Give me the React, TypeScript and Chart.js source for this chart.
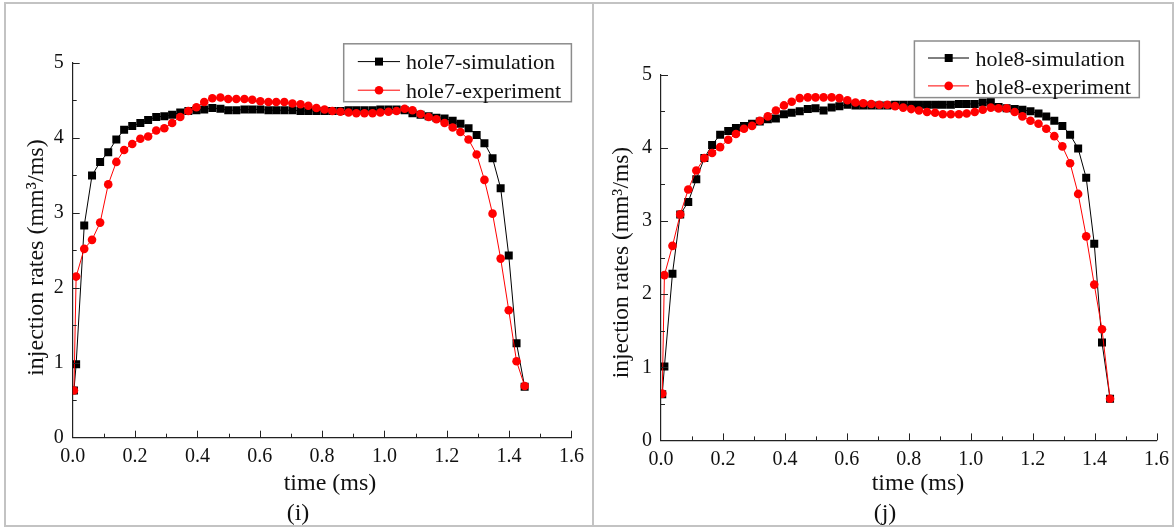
import React, { useEffect, useRef } from 'react';
import { Chart, registerables } from 'chart.js';

Chart.register(...registerables);

// ---------- data ----------
const TIME_MS = [
  0.004, 0.011, 0.037, 0.062, 0.088, 0.114, 0.140, 0.165, 0.191, 0.217,
  0.242, 0.268, 0.294, 0.319, 0.345, 0.371, 0.397, 0.422, 0.448, 0.474,
  0.499, 0.525, 0.551, 0.576, 0.602, 0.628, 0.653, 0.679, 0.705, 0.731,
  0.756, 0.782, 0.808, 0.833, 0.859, 0.885, 0.910, 0.936, 0.962, 0.987,
  1.013, 1.039, 1.065, 1.090, 1.116, 1.142, 1.167, 1.193, 1.219, 1.244,
  1.270, 1.296, 1.321, 1.347, 1.373, 1.399, 1.424, 1.450,
];

const HOLE7_SIM = [
  0.63, 0.98, 2.83, 3.50, 3.68, 3.81, 3.98, 4.11, 4.16, 4.20,
  4.24, 4.28, 4.29, 4.31, 4.34, 4.36, 4.37, 4.38, 4.40, 4.39,
  4.37, 4.37, 4.38, 4.38, 4.38, 4.37, 4.37, 4.37, 4.37, 4.36,
  4.36, 4.36, 4.36, 4.36, 4.36, 4.37, 4.37, 4.37, 4.37, 4.38,
  4.38, 4.38, 4.37, 4.33, 4.31, 4.29, 4.27, 4.26, 4.23, 4.19,
  4.13, 4.04, 3.93, 3.73, 3.33, 2.43, 1.26, 0.68,
];

const HOLE7_EXP = [
  0.63, 2.15, 2.52, 2.64, 2.87, 3.38, 3.68, 3.84, 3.92, 3.99,
  4.02, 4.10, 4.13, 4.20, 4.28, 4.36, 4.41, 4.48, 4.53, 4.54,
  4.52, 4.52, 4.52, 4.51, 4.49, 4.48, 4.48, 4.48, 4.46, 4.45,
  4.43, 4.40, 4.38, 4.36, 4.35, 4.34, 4.33, 4.33, 4.33, 4.34,
  4.35, 4.36, 4.39, 4.37, 4.32, 4.28, 4.25, 4.20, 4.14, 4.08,
  3.98, 3.78, 3.44, 2.99, 2.39, 1.70, 1.02, 0.69,
];

const HOLE8_SIM = [
  0.63, 1.01, 2.28, 3.09, 3.26, 3.57, 3.86, 4.04, 4.18, 4.23,
  4.27, 4.30, 4.33, 4.36, 4.39, 4.40, 4.46, 4.48, 4.50, 4.53,
  4.54, 4.51, 4.55, 4.57, 4.59, 4.58, 4.58, 4.58, 4.58, 4.58,
  4.59, 4.59, 4.59, 4.59, 4.59, 4.59, 4.59, 4.59, 4.60, 4.60,
  4.60, 4.62, 4.63, 4.56, 4.54, 4.53, 4.52, 4.50, 4.47, 4.43,
  4.37, 4.30, 4.18, 3.99, 3.59, 2.69, 1.34, 0.57,
];

const HOLE8_EXP = [
  0.64, 2.26, 2.66, 3.09, 3.43, 3.69, 3.86, 3.93, 4.01, 4.11,
  4.19, 4.26, 4.30, 4.37, 4.43, 4.51, 4.58, 4.63, 4.68, 4.69,
  4.69, 4.69, 4.69, 4.68, 4.65, 4.62, 4.61, 4.60, 4.59, 4.59,
  4.57, 4.55, 4.53, 4.51, 4.49, 4.48, 4.46, 4.46, 4.46, 4.47,
  4.49, 4.52, 4.55, 4.54, 4.54, 4.49, 4.43, 4.37, 4.33, 4.26,
  4.16, 4.02, 3.79, 3.37, 2.79, 2.13, 1.52, 0.57,
];

const NAMES_I = ['hole7-simulation', 'hole7-experiment'];
const NAMES_J = ['hole8-simulation', 'hole8-experiment'];
const X_TITLE = 'time (ms)';
const Y_TITLE = 'injection rates (mm\u00B3/ms)';
const X_MIN = 0, X_MAX = 1.6, X_STEP = 0.2, X_MINOR = 0.1;
const Y_MIN = 0, Y_MAX = 5, Y_STEP = 1, Y_MINOR = 0.5;

const FONT = "'Liberation Serif', 'Times New Roman', serif";
const SIM_COLOR = '#000000';
const EXP_COLOR = '#ff0000';
const SQ_HALF = 4;
const CIRCLE_R = 4.3;

type PanelCfg = {
  left: number; w: number; h: number;
  area: { l: number; r: number; t: number; b: number };
  names: string[]; sim: number[]; exp: number[];
  caption: string; captionX: number; xTitleX: number;
  yTitleX: number; yTitleY: number; yTitleSize: number;
  legend: { x0: number; y0: number; x1: number; y1: number; lx0: number; lx1: number; mx: number; tx: number; rows: number[]; baseOff: number };
};

const PANELS: PanelCfg[] = [
  {
    left: 0, w: 594, h: 528,
    area: { l: 72.7, r: 571.4, t: 63, b: 437.7 },
    names: NAMES_I, sim: HOLE7_SIM, exp: HOLE7_EXP,
    caption: '(i)', captionX: 298, xTitleX: 330,
    yTitleX: 43.4, yTitleY: 257.6, yTitleSize: 24,
    legend: { x0: 343.7, y0: 43.8, x1: 571.4, y1: 101.7, lx0: 357.8, lx1: 400, mx: 379, tx: 406, rows: [61.6, 90.2], baseOff: 7.5 },
  },
  {
    left: 594, w: 582, h: 528,
    area: { l: 67, r: 563.3, t: 74.7, b: 440.4 },
    names: NAMES_J, sim: HOLE8_SIM, exp: HOLE8_EXP,
    caption: '(j)', captionX: 291, xTitleX: 324,
    yTitleX: 34.2, yTitleY: 262.6, yTitleSize: 23.5,
    legend: { x0: 320.4, y0: 41, x1: 545.3, y1: 97.6, lx0: 334, lx1: 375, mx: 354.7, tx: 381.6, rows: [58, 85.9], baseOff: 7.7 },
  },
];

function drawMarker(ctx: CanvasRenderingContext2D, kind: 'rect' | 'circle', x: number, y: number, color: string) {
  ctx.fillStyle = color;
  if (kind === 'rect') {
    ctx.fillRect(x - SQ_HALF, y - SQ_HALF, 2 * SQ_HALF, 2 * SQ_HALF);
  } else {
    ctx.beginPath();
    ctx.arc(x, y, CIRCLE_R, 0, Math.PI * 2);
    ctx.fill();
  }
}

function makeDecor(p: PanelCfg) {
  return {
    id: 'decor',
    afterDraw(chart: any) {
      const { ctx, chartArea } = chart;
      const xs = chart.scales.x;
      const ys = chart.scales.y;
      ctx.save();
      // inward tick marks (major + minor)
      ctx.strokeStyle = '#222';
      ctx.lineWidth = 1;
      const nx = Math.round((X_MAX - X_MIN) / X_MINOR);
      for (let i = 1; i <= nx; i++) {
        const v = X_MIN + i * X_MINOR;
        const px = Math.round(xs.getPixelForValue(v)) + 0.5;
        const len = i % 2 === 0 ? 7 : 4;
        ctx.beginPath();
        ctx.moveTo(px, chartArea.bottom);
        ctx.lineTo(px, chartArea.bottom - len);
        ctx.stroke();
      }
      const ny = Math.round((Y_MAX - Y_MIN) / Y_MINOR);
      for (let i = 1; i <= ny; i++) {
        const v = Y_MIN + i * Y_MINOR;
        const py = Math.round(ys.getPixelForValue(v)) + 0.5;
        const len = i % 2 === 0 ? 7 : 4;
        ctx.beginPath();
        ctx.moveTo(chartArea.left, py);
        ctx.lineTo(chartArea.left + len, py);
        ctx.stroke();
      }

      // axis titles and caption
      ctx.fillStyle = '#111';
      ctx.textBaseline = 'alphabetic';
      ctx.textAlign = 'center';
      ctx.font = `24px ${FONT}`;
      ctx.fillText(X_TITLE, p.xTitleX, 490);
      ctx.fillText(p.caption, p.captionX, 520);
      ctx.save();
      ctx.translate(p.yTitleX, p.yTitleY);
      ctx.rotate(-Math.PI / 2);
      ctx.font = `${p.yTitleSize}px ${FONT}`;
      ctx.fillText(Y_TITLE, 0, 0);
      ctx.restore();

      // legend
      const L = p.legend;
      ctx.fillStyle = '#ffffff';
      ctx.fillRect(L.x0, L.y0, L.x1 - L.x0, L.y1 - L.y0);
      ctx.strokeStyle = '#8c8c8c';
      ctx.lineWidth = 1.5;
      ctx.strokeRect(L.x0, L.y0, L.x1 - L.x0, L.y1 - L.y0);
      const colors = [SIM_COLOR, EXP_COLOR];
      const kinds: ('rect' | 'circle')[] = ['rect', 'circle'];
      ctx.font = `22px ${FONT}`;
      ctx.textAlign = 'left';
      for (let r = 0; r < 2; r++) {
        const y = L.rows[r];
        ctx.strokeStyle = colors[r];
        ctx.lineWidth = 1;
        ctx.beginPath();
        ctx.moveTo(L.lx0, y);
        ctx.lineTo(L.lx1, y);
        ctx.stroke();
        drawMarker(ctx, kinds[r], L.mx, y, colors[r]);
        ctx.fillStyle = '#111';
        ctx.fillText(p.names[r], L.tx, y + L.baseOff);
      }
      ctx.restore();
    },
  };
}

function buildConfig(p: PanelCfg): any {
  const simPts = TIME_MS.map((t, i) => ({ x: t, y: p.sim[i] }));
  const expPts = TIME_MS.map((t, i) => ({ x: t, y: p.exp[i] }));
  return {
    type: 'line',
    data: {
      datasets: [
        {
          label: p.names[0], data: simPts, order: 1,
          borderColor: SIM_COLOR, backgroundColor: SIM_COLOR, borderWidth: 1,
          pointStyle: 'rect', pointRadius: SQ_HALF * Math.SQRT2, pointBorderWidth: 0,
          pointBackgroundColor: SIM_COLOR, tension: 0,
        },
        {
          label: p.names[1], data: expPts, order: 0,
          borderColor: EXP_COLOR, backgroundColor: EXP_COLOR, borderWidth: 1,
          pointStyle: 'circle', pointRadius: CIRCLE_R, pointBorderWidth: 0,
          pointBackgroundColor: EXP_COLOR, tension: 0,
        },
      ],
    },
    options: {
      responsive: false,
      animation: false,
      devicePixelRatio: 1,
      layout: { padding: { left: 0, top: p.area.t, right: p.w - p.area.r, bottom: 0 } },
      plugins: { legend: { display: false }, tooltip: { enabled: false } },
      scales: {
        x: {
          type: 'linear', min: X_MIN, max: X_MAX,
          afterFit: (s: any) => { s.height = p.h - p.area.b; },
          grid: { display: false, drawTicks: false },
          border: { display: true, color: '#222', width: 1.2 },
          ticks: {
            stepSize: X_STEP, padding: 7, color: '#111',
            font: { family: FONT, size: 20 },
            callback: (v: number) => Number(v).toFixed(1),
          },
        },
        y: {
          type: 'linear', min: Y_MIN, max: Y_MAX,
          afterFit: (s: any) => { s.width = p.area.l; },
          grid: { display: false, drawTicks: false },
          border: { display: true, color: '#222', width: 1.2 },
          ticks: {
            stepSize: Y_STEP, padding: 9, color: '#111',
            font: { family: FONT, size: 20 },
            callback: (v: number) => String(Math.round(v)),
          },
        },
      },
    },
    plugins: [makeDecor(p)],
  };
}

function Panel({ p }: { p: PanelCfg }) {
  const ref = useRef<HTMLCanvasElement>(null);
  useEffect(() => {
    const chart = new Chart(ref.current as HTMLCanvasElement, buildConfig(p));
    return () => chart.destroy();
  }, [p]);
  return (
    <canvas
      ref={ref}
      width={p.w}
      height={p.h}
      style={{ position: 'absolute', left: p.left, top: 0, width: p.w, height: p.h, display: 'block' }}
    />
  );
}

export default function App() {
  return (
    <div style={{ position: 'fixed', left: 0, top: 0, width: 1176, height: 528, background: '#fff', overflow: 'hidden' }}>
      {PANELS.map((p, i) => <Panel key={i} p={p} />)}
      <div style={{ position: 'absolute', left: 4, top: 2, width: 1170, height: 525, border: '2px solid #c3c3c3', boxSizing: 'border-box', pointerEvents: 'none' }} />
      <div style={{ position: 'absolute', left: 592, top: 2, width: 2, height: 525, background: '#c3c3c3', pointerEvents: 'none' }} />
    </div>
  );
}
